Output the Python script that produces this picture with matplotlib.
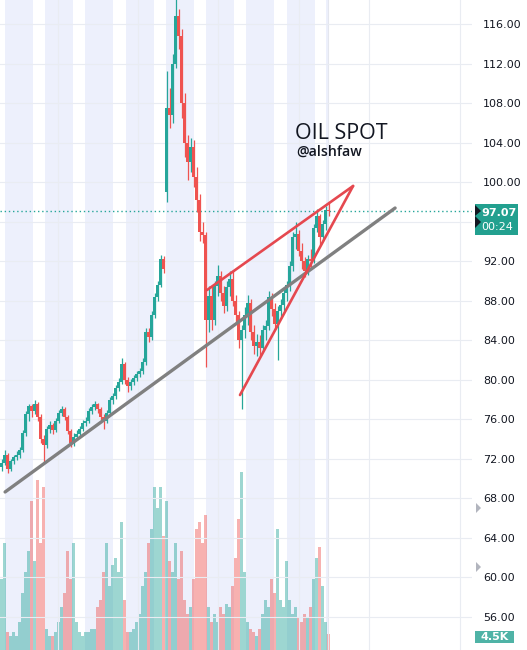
import matplotlib
matplotlib.use("Agg")
import matplotlib.pyplot as plt
from matplotlib.patches import Rectangle, Polygon
import numpy as np

# ---------------- data ----------------
opens = [71.2, 71.6, 72.4, 71.0, 71.8, 72.2, 72.4, 72.9, 74.6, 76.5,
         77.3, 76.8, 77.6, 76.2, 74.0, 73.4, 75.0, 75.4, 74.9, 75.8,
         76.6, 77.0, 76.2, 74.8, 73.6, 74.2, 74.5, 75.0, 75.6, 75.8,
         76.8, 77.2, 77.5, 77.0, 76.2, 75.8, 76.6, 78.0, 78.4, 79.2,
         79.8, 81.6, 80.0, 79.4, 79.8, 80.2, 80.6, 80.9, 81.8, 84.8,
         84.3, 86.6, 88.4, 89.6, 92.2, 99.0, 107.5, 106.8, 112.0, 116.8,
         114.8, 108.0, 104.0, 102.0, 103.6, 100.5, 98.2, 95.0, 94.6, 86.0,
         88.5, 86.0, 89.5, 90.5, 88.8, 87.5, 89.4, 90.2, 88.0, 86.6,
         84.0, 85.0, 86.6, 87.8, 84.8, 83.4, 83.8, 83.2, 85.0, 85.4,
         88.4, 87.2, 85.6, 87.0, 87.6, 88.8, 89.6, 91.5, 94.4, 94.8,
         93.0, 92.0, 91.0, 92.2, 92.0, 95.4, 96.6, 94.4, 95.8, 97.2]
highs = [72.0, 72.9, 72.6, 72.0, 72.4, 72.8, 73.2, 74.9, 76.8, 77.6,
         77.5, 78.0, 77.8, 76.5, 74.4, 75.3, 75.8, 75.6, 76.1, 76.9,
         77.3, 77.2, 76.4, 75.0, 74.6, 74.9, 75.3, 75.9, 76.2, 77.1,
         77.6, 77.9, 77.7, 77.2, 76.5, 76.9, 78.3, 78.7, 79.5, 80.2,
         82.2, 81.8, 80.3, 80.1, 80.5, 80.9, 81.2, 82.2, 85.2, 85.2,
         87.0, 88.8, 90.0, 92.6, 92.5, 111.2, 109.5, 113.0, 119.0, 117.5,
         115.5, 109.0, 104.8, 104.5, 104.3, 101.5, 98.8, 96.0, 95.0, 89.5,
         89.5, 90.0, 91.6, 91.0, 89.5, 90.0, 91.0, 91.1, 88.6, 87.0,
         85.5, 87.4, 88.6, 88.2, 85.5, 84.6, 84.5, 85.5, 86.0, 89.0,
         88.8, 87.8, 87.5, 88.2, 89.2, 90.0, 92.0, 95.0, 96.0, 95.2,
         93.8, 92.4, 92.6, 93.2, 95.8, 97.3, 96.8, 96.2, 97.6, 97.9]
lows = [70.8, 71.4, 70.6, 70.8, 71.5, 71.9, 72.1, 72.7, 74.3, 75.8,
        76.2, 76.5, 75.8, 73.6, 71.7, 73.1, 74.6, 74.5, 74.7, 75.6,
        76.3, 75.9, 74.5, 73.2, 73.3, 73.9, 74.2, 74.8, 75.3, 75.6,
        76.5, 76.9, 76.6, 75.9, 75.0, 75.6, 76.4, 77.6, 78.1, 78.9,
        79.6, 79.6, 78.8, 79.0, 79.5, 79.9, 80.3, 80.6, 81.5, 83.8,
        84.0, 86.3, 88.0, 89.4, 90.8, 98.0, 105.5, 106.0, 111.5, 113.5,
        106.5, 102.5, 100.2, 101.0, 99.5, 97.0, 94.0, 93.8, 81.3, 84.8,
        85.0, 85.5, 88.5, 88.0, 86.8, 87.0, 88.5, 87.5, 85.8, 83.2,
        77.0, 84.2, 85.5, 84.0, 82.6, 82.4, 82.5, 83.0, 84.0, 85.0,
        86.5, 85.0, 82.0, 86.3, 87.0, 88.0, 89.0, 91.0, 93.2, 92.5,
        91.2, 90.4, 90.6, 91.4, 91.8, 95.0, 93.6, 94.0, 95.2, 96.6]
closes = [71.6, 72.4, 71.0, 71.8, 72.2, 72.4, 72.9, 74.6, 76.5, 77.3,
          76.8, 77.6, 76.2, 74.0, 73.4, 75.0, 75.4, 74.9, 75.8, 76.6,
          77.0, 76.2, 74.8, 73.6, 74.2, 74.5, 75.0, 75.6, 75.8, 76.8,
          77.2, 77.5, 77.0, 76.2, 75.8, 76.6, 78.0, 78.4, 79.2, 79.8,
          81.6, 80.0, 79.4, 79.8, 80.2, 80.6, 80.9, 81.8, 84.8, 84.3,
          86.6, 88.4, 89.6, 92.2, 91.2, 107.5, 106.8, 112.0, 116.8, 114.8,
          108.0, 104.0, 102.0, 103.6, 100.5, 98.2, 95.0, 94.6, 86.0, 88.5,
          86.0, 89.5, 90.5, 88.8, 87.5, 89.4, 90.2, 88.0, 86.6, 84.0,
          85.0, 86.6, 87.8, 84.8, 83.4, 83.8, 83.2, 85.0, 85.4, 88.4,
          87.2, 85.6, 87.0, 87.6, 88.8, 89.6, 91.5, 94.4, 94.8, 93.0,
          92.0, 91.0, 92.2, 92.0, 95.4, 96.6, 94.4, 95.8, 97.2, 97.07]
volumes_k = [20, 30, 5, 4, 5, 4, 8, 16, 22, 28,
             42, 25, 48, 30, 46, 6, 4, 4, 5, 8,
             12, 16, 28, 20, 30, 8, 5, 4, 5, 5,
             6, 6, 12, 14, 22, 30, 18, 24, 26, 22,
             36, 14, 5, 5, 6, 8, 10, 18, 22, 30,
             34, 46, 40, 46, 32, 42, 25, 22, 30, 20,
             28, 14, 10, 12, 20, 34, 36, 30, 38, 12,
             8, 10, 8, 12, 10, 13, 12, 18, 26, 37,
             50, 22, 8, 6, 5, 4, 6, 10, 14, 12,
             20, 16, 34, 14, 12, 25, 14, 10, 12, 9,
             8, 10, 9, 12, 20, 26, 29, 18, 8, 4.5]

price_ticks = [56, 60, 64, 68, 72, 76, 80, 84, 88, 92, 96, 100, 104, 108, 112, 116]
shown_ticks = [56, 60, 64, 68, 72, 76, 80, 84, 88, 92, 100, 104, 108, 112, 116]
time_grid = [18.8, 45.5, 72.2, 99.2, 122.5, 152.8]        # vertical grid (bar index)
session_start = [1.2, 14.5, 27.8, 41.5, 54.8, 68.2, 81.5, 95.2, 108.2]
session_end = [10.5, 23.8, 37.2, 50.8, 64.2, 77.5, 90.8, 104.5, 109.3]

# drawn trend lines: (bar index, price)
support_line = [(1.2, 68.65), (131.2, 97.38)]
wedge_upper = [(68.5, 89.08), (117.2, 99.61)]
wedge_lower = [(79.5, 78.46), (117.2, 99.61)]

last_price = 97.07
last_volume = "4.5K"
countdown = "00:24"
title = "OIL SPOT"
author = "@alshfaw"

# ---------------- style ----------------
W, H = 527, 650
UP = "#26a69a"
DN = "#ef5350"
fig = plt.figure(figsize=(W / 100, H / 100), dpi=100)
fig.patch.set_facecolor("white")

axw = 472 / W
n = len(closes)
xlim = (-0.5, 472 / 3 - 0.5)
ylim = (116 - 626 / 9.883, 116 + 24 / 9.883)

def px(x, y):
    return x / W, 1 - y / H

# volume / background axes
axv = fig.add_axes([0, 0, axw, 1])
axv.set_xlim(*xlim)
axv.set_ylim(0, 183)
axv.axis("off")
for s, e in zip(session_start, session_end):
    axv.axvspan(s, e, color="#edf0fc", lw=0, zorder=0)
x = np.arange(n)
o = np.array(opens); c = np.array(closes)
up = c >= o
vcol = [UP if u else DN for u in up]
axv.bar(x, volumes_k, width=1.0, color=vcol, alpha=0.45, lw=0, zorder=1)

# price axes
ax = fig.add_axes([0, 0, axw, 1], sharex=axv)
ax.patch.set_visible(False)
ax.set_xlim(*xlim)
ax.set_ylim(*ylim)
for sp in ax.spines.values():
    sp.set_visible(False)
ax.set_yticks(price_ticks)
ax.set_yticklabels([f"{t:.2f}" if t in shown_ticks else "" for t in price_ticks])
ax.yaxis.tick_right()
ax.tick_params(axis="y", length=0, pad=8, labelsize=8, labelcolor="#131722")
ax.set_xticks(time_grid)
ax.tick_params(axis="x", length=0, labelbottom=False)
ax.grid(True, color="#e9ecf2", lw=0.8, zorder=0)
ax.set_axisbelow(True)
ax.axvline(108.9, color="#e4e6ee", lw=0.8, zorder=0)

# candles
h = np.array(highs); l = np.array(lows)
ccol = [UP if u else DN for u in up]
ax.vlines(x, l, h, colors=ccol, lw=0.9, zorder=3)
bot = np.minimum(o, c)
ht = np.maximum(np.abs(c - o), 0.12)
ax.bar(x, ht, bottom=bot, width=0.7, color=ccol, lw=0, zorder=3)

# last price dotted line
ax.axhline(last_price, color=UP, lw=1.0, ls=(0, (1, 2)), zorder=2)

# trend lines
for seg, col, lw in [(support_line, "#808080", 2.4),
                     (wedge_upper, "#e5484f", 1.9),
                     (wedge_lower, "#e5484f", 1.9)]:
    xs, ys = zip(*seg)
    ax.plot(xs, ys, color=col, lw=lw, solid_capstyle="round", zorder=4)

# texts
fig.text(*px(295, 139), title, fontsize=15.5, family="Open Sans", color="#131722",
         ha="left", va="baseline")
fig.text(*px(296, 156), author, fontsize=10.2, family="Open Sans", weight="semibold",
         color="#131722", ha="left", va="baseline")

# price label
x0, y0 = px(475, 235)
fig.patches.append(Rectangle((x0, y0), 43 / W, 31 / H, transform=fig.transFigure,
                             facecolor="#22a08f", edgecolor="none", zorder=5))
fig.text(*px(481, 216), f"{last_price:.2f}", fontsize=8, weight="bold", color="white",
         ha="left", va="baseline", zorder=6)
fig.text(*px(481, 230), countdown, fontsize=8, color="white",
         ha="left", va="baseline", zorder=6)
tri = [(475, 205), (481, 211), (475, 216), (481, 222), (475, 228)]
fig.patches.append(Polygon([px(a, b) for a, b in tri], closed=True,
                           transform=fig.transFigure, facecolor="#131722",
                           edgecolor="none", zorder=7))
# small grey markers
for ym in (508, 567):
    pts = [(476, ym - 5), (481, ym), (476, ym + 5)]
    fig.patches.append(Polygon([px(a, b) for a, b in pts], closed=True,
                               transform=fig.transFigure, facecolor="#b2b5be",
                               edgecolor="none", zorder=5))
# volume label
x0, y0 = px(475, 643)
fig.patches.append(Rectangle((x0, y0), 39 / W, 12 / H, transform=fig.transFigure,
                             facecolor="#4fb3a6", edgecolor="none", zorder=5))
fig.text(*px(494.5, 637.5), last_volume, fontsize=8, weight="bold", color="white",
         ha="center", va="center", zorder=6)

fig.savefig("out.png", dpi=100)
